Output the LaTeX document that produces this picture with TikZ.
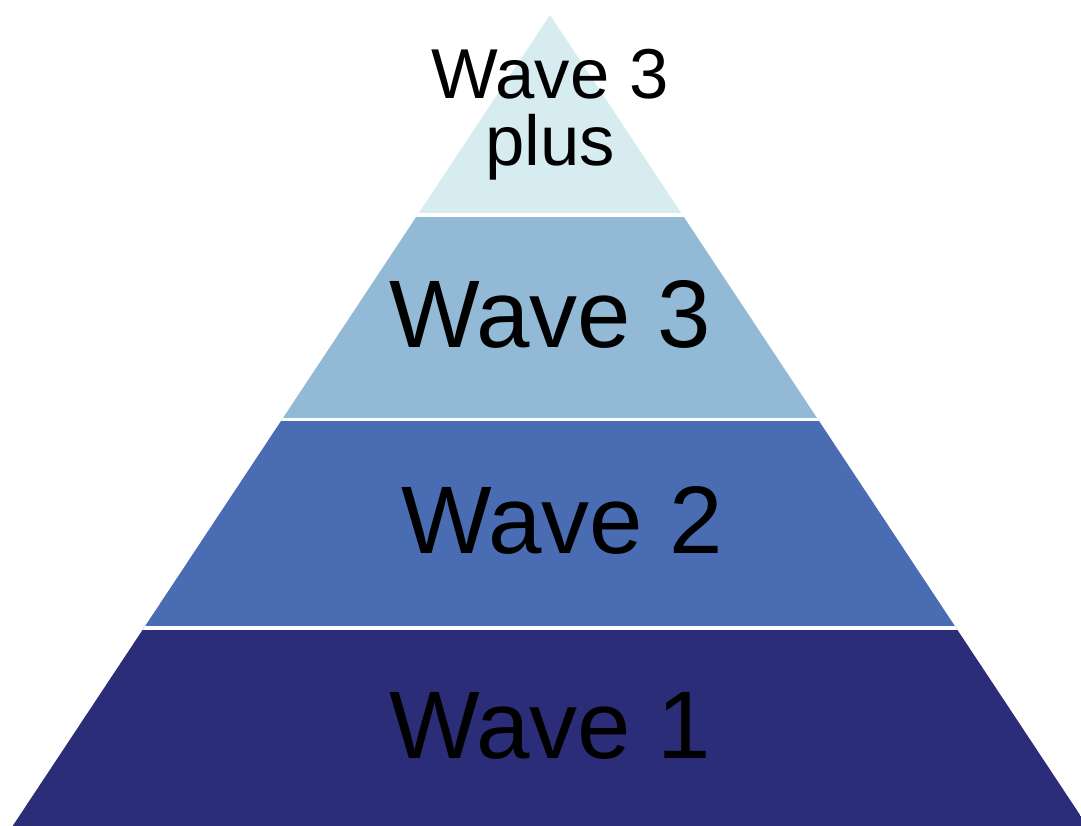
\documentclass[tikz,border=0pt]{standalone}
\usepackage{fontspec}
\setmainfont{Liberation Sans}
\definecolor{lvfour}{RGB}{214,236,240}
\definecolor{lvthree}{RGB}{146,186,214}
\definecolor{lvtwo}{RGB}{74,108,178}
\definecolor{lvone}{RGB}{44,45,120}
\tikzset{
  bigtxt/.style={anchor=base, inner sep=0pt, text=black, font=\fontsize{72}{80}\selectfont},
  smalltxt/.style={anchor=base, inner sep=0pt, text=black, font=\fontsize{53}{60}\selectfont},
  sep/.style={draw=white, line width=2.5pt}
}
\begin{document}
\begin{tikzpicture}[x=0.75pt, y=-0.75pt]
\useasboundingbox (0,0) rectangle (1081,825);
\fill[white] (0,0) rectangle (1081,825);
\begin{scope}
  \clip (550,15) -- (1090,830) -- (10,830) -- cycle;
  \fill[lvfour]  (0,0)   rectangle (1081,215);
  \fill[lvthree] (0,215) rectangle (1081,419.5);
  \fill[lvtwo]   (0,419.5) rectangle (1081,628);
  \fill[lvone]   (0,628) rectangle (1081,830);
  \draw[sep] (0,215) -- (1081,215);
  \draw[sep] (0,419.5) -- (1081,419.5);
  \draw[sep] (0,628) -- (1081,628);
\end{scope}
\node[smalltxt] (w4a) at (550,98) {Wave 3};
\node[smalltxt] (w4b) at (550,165) {plus};
\node[bigtxt] (w3) at (550,347) {Wave 3};
\node[bigtxt] (w2) at (562,553) {Wave 2};
\node[bigtxt] (w1) at (550,758) {Wave 1};
\end{tikzpicture}
\end{document}
